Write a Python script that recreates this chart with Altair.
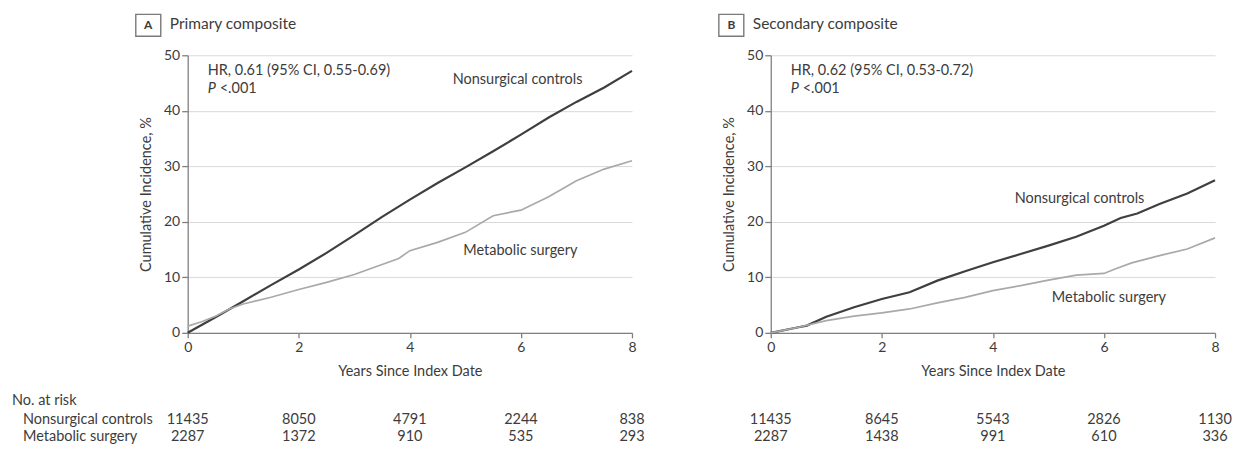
import altair as alt
import pandas as pd

FONT = "Lato"
TEXT = "#3c3c3c"
DARK = "#3f3f3f"
LIGHT = "#a9a9a9"
AXIS = "#808080"

# ---------------- data ----------------
# Panel A - Primary composite
a_ctrl_years = [0, 0.5, 1, 1.5, 2, 2.5, 3, 3.5, 4, 4.5, 5, 5.5, 6, 6.5, 7, 7.5, 8]
a_ctrl_inc = [0, 2.8, 5.7, 8.6, 11.4, 14.4, 17.6, 20.9, 24.0, 27.0, 29.8, 32.7, 35.7, 38.8, 41.6, 44.2, 47.2]
a_surg_years = [0, 0.25, 0.5, 0.75, 1, 1.25, 1.5, 2, 2.5, 3, 3.5, 3.8, 4, 4.5, 5, 5.5, 6, 6.5, 7, 7.5, 8]
a_surg_inc = [1.2, 2.0, 3.0, 4.3, 5.2, 5.8, 6.4, 7.8, 9.1, 10.5, 12.3, 13.4, 14.8, 16.3, 18.1, 21.1, 22.1, 24.5, 27.4, 29.5, 31.0]

# Panel B - Secondary composite
b_ctrl_years = [0, 0.5, 0.65, 1, 1.5, 2, 2.5, 3, 3.5, 4, 4.5, 5, 5.5, 6, 6.3, 6.6, 7, 7.5, 8]
b_ctrl_inc = [0, 1.0, 1.3, 2.9, 4.6, 6.1, 7.3, 9.4, 11.1, 12.7, 14.2, 15.7, 17.3, 19.3, 20.7, 21.5, 23.2, 25.1, 27.5]
b_surg_years = [0, 0.5, 1, 1.5, 2, 2.5, 3, 3.5, 4, 4.5, 5, 5.5, 6, 6.2, 6.5, 7, 7.5, 8]
b_surg_inc = [0, 1.0, 2.2, 3.0, 3.6, 4.3, 5.4, 6.4, 7.6, 8.5, 9.5, 10.4, 10.7, 11.5, 12.6, 13.9, 15.1, 17.1]

# Numbers at risk
risk_years = [0, 2, 4, 6, 8]
a_risk_ctrl = [11435, 8050, 4791, 2244, 838]
a_risk_surg = [2287, 1372, 910, 535, 293]
b_risk_ctrl = [11435, 8645, 5543, 2826, 1130]
b_risk_surg = [2287, 1438, 991, 610, 336]

# Annotation texts and anchor points (data coordinates)
a_hr = "HR, 0.61 (95% CI, 0.55-0.69)"
b_hr = "HR, 0.62 (95% CI, 0.53-0.72)"
hr_pos = {"x": 0.36, "y1": 47.2, "y2": 44.0}
a_lab = {"ctrl": (5.94, 45.6), "surg": (5.99, 14.8)}
b_lab = {"ctrl": (5.56, 24.1), "surg": (6.09, 6.3)}

W, H = 445, 278


def panel(letter, title, hr, cy, cv, sy, sv, risk_c, risk_s, labs, row_labels):
    xs = alt.Scale(domain=[0, 8], nice=False, zero=False)
    ys = alt.Scale(domain=[0, 50], nice=False)
    xax = alt.Axis(values=[0, 2, 4, 6, 8], title="Years Since Index Date", grid=False,
                   tickSize=5, labelPadding=3, titlePadding=10, labelFlush=False,
                   format="d")
    yax = alt.Axis(values=[0, 10, 20, 30, 40, 50], title="Cumulative Incidence, %",
                   grid=True, tickSize=6, labelPadding=2, titlePadding=10)

    ctrl = alt.Chart(pd.DataFrame({"years": cy, "inc": cv})).mark_line(
        color=DARK, strokeWidth=2.2).encode(
        x=alt.X("years:Q", scale=xs, axis=xax),
        y=alt.Y("inc:Q", scale=ys, axis=yax))
    surg = alt.Chart(pd.DataFrame({"years": sy, "inc": sv})).mark_line(
        color=LIGHT, strokeWidth=1.7).encode(
        x=alt.X("years:Q", scale=xs), y=alt.Y("inc:Q", scale=ys))

    tx = dict(font=FONT, color=TEXT, fontSize=14.5, baseline="middle")

    ann = pd.DataFrame({
        "x": [hr_pos["x"], labs["ctrl"][0], labs["surg"][0]],
        "y": [hr_pos["y1"], labs["ctrl"][1], labs["surg"][1]],
        "t": [hr, "Nonsurgical controls", "Metabolic surgery"],
        "a": ["left", "center", "center"],
    })
    ann_l = alt.Chart(ann[ann.a == "left"]).mark_text(align="left", **tx).encode(
        x=alt.X("x:Q", scale=xs), y=alt.Y("y:Q", scale=ys), text="t:N")
    ann_c = alt.Chart(ann[ann.a == "center"]).mark_text(align="center", **tx).encode(
        x=alt.X("x:Q", scale=xs), y=alt.Y("y:Q", scale=ys), text="t:N")
    pdf = pd.DataFrame({"x": [hr_pos["x"]], "y": [hr_pos["y2"]], "p": ["P"], "v": ["<.001"]})
    p_it = alt.Chart(pdf).mark_text(align="left", fontStyle="italic", **tx).encode(
        x=alt.X("x:Q", scale=xs), y=alt.Y("y:Q", scale=ys), text="p:N")
    p_val = alt.Chart(pdf).mark_text(align="left", dx=12, **tx).encode(
        x=alt.X("x:Q", scale=xs), y=alt.Y("y:Q", scale=ys), text="v:N")

    # header: boxed letter + title
    hdf = pd.DataFrame({"letter": [letter], "title": [title]})
    box = alt.Chart(hdf).mark_rect(fill="white", stroke="#7a7a7a", strokeWidth=1.4).encode(
        x=alt.value(-52), x2=alt.value(-27), y=alt.value(-41), y2=alt.value(-19))
    let = alt.Chart(hdf).mark_text(font=FONT, fontSize=12, fontWeight="bold", color=TEXT,
                                   align="center", baseline="middle").encode(
        x=alt.value(-39.5), y=alt.value(-30), text="letter:N")
    ttl = alt.Chart(hdf).mark_text(font=FONT, fontSize=15.5, color=TEXT,
                                   align="left", baseline="middle").encode(
        x=alt.value(-18), y=alt.value(-31), text="title:N")

    # number at risk table
    rc = pd.DataFrame({"x": risk_years, "n": [str(v) for v in risk_c]})
    rs = pd.DataFrame({"x": risk_years, "n": [str(v) for v in risk_s]})
    row_c = alt.Chart(rc).mark_text(align="center", **tx).encode(
        x=alt.X("x:Q", scale=xs), y=alt.value(H + 87), text="n:N")
    row_s = alt.Chart(rs).mark_text(align="center", **tx).encode(
        x=alt.X("x:Q", scale=xs), y=alt.value(H + 104), text="n:N")

    layers = [ctrl, surg, ann_l, ann_c, p_it, p_val, box, let, ttl, row_c, row_s]

    if row_labels:
        rl = pd.DataFrame({"t": ["No. at risk"]})
        head = alt.Chart(rl).mark_text(align="left", **tx).encode(
            x=alt.value(-176), y=alt.value(H + 68), text="t:N")
        l1 = alt.Chart(pd.DataFrame({"t": ["Nonsurgical controls"]})).mark_text(
            align="left", **tx).encode(x=alt.value(-165), y=alt.value(H + 87), text="t:N")
        l2 = alt.Chart(pd.DataFrame({"t": ["Metabolic surgery"]})).mark_text(
            align="left", **tx).encode(x=alt.value(-165), y=alt.value(H + 104), text="t:N")
        layers += [head, l1, l2]

    return alt.layer(*layers).properties(width=W, height=H)


pa = panel("A", "Primary composite", a_hr, a_ctrl_years, a_ctrl_inc,
           a_surg_years, a_surg_inc, a_risk_ctrl, a_risk_surg, a_lab, True)
pb = panel("B", "Secondary composite", b_hr, b_ctrl_years, b_ctrl_inc,
           b_surg_years, b_surg_inc, b_risk_ctrl, b_risk_surg, b_lab, False)

chart = alt.hconcat(pa, pb, spacing=73).properties(
    padding={"left": 4, "top": 5, "right": 0, "bottom": 0},
    background="white",
).configure_view(stroke=None).configure_axis(
    labelFont=FONT, titleFont=FONT, labelFontSize=14, titleFontSize=14.5,
    titleFontWeight="normal", labelColor=TEXT, titleColor=TEXT,
    domainColor=AXIS, tickColor=AXIS, domainWidth=1.3, tickWidth=1.3,
    gridColor="#d9d9d9", gridWidth=1,
)

chart.save("out.html", embed_options={"renderer": "svg", "actions": False})
